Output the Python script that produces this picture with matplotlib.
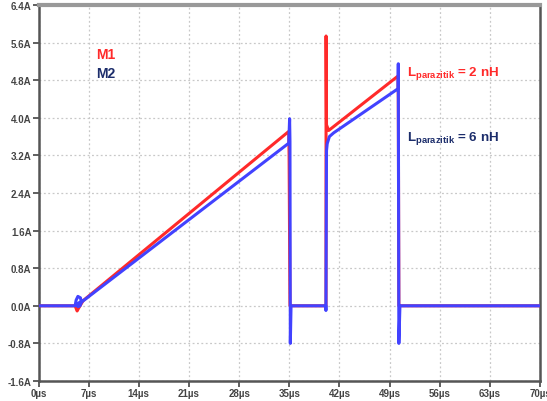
import matplotlib
matplotlib.use("Agg")
import matplotlib.pyplot as plt

plt.rcParams['font.family'] = ['Liberation Sans', 'DejaVu Sans']
plt.rcParams['mathtext.fontset'] = 'custom'
plt.rcParams['mathtext.rm'] = 'Liberation Sans'
plt.rcParams['mathtext.bf'] = 'Liberation Sans:bold'

# Drain current of M1 (2 nH parasitic inductance), time in µs, current in A
m1_t = [0.0, 5.11, 5.39, 5.6, 6.23, 34.93, 34.98, 35.1, 40.13, 40.14, 40.2,
        40.5, 50.19, 50.22, 50.3, 70.0]
m1_i = [0.0, 0.0, -0.11, -0.05, 0.11, 3.71, 3.19, 0.0, 0.0, 5.74, 3.85,
        3.73, 4.89, 4.40, 0.0, 0.0]

# Drain current of M2 (6 nH parasitic inductance)
m2_t = [0.0, 5.11, 5.25, 5.5, 5.85, 6.0, 5.8, 5.5, 5.35, 5.7, 6.1, 34.93,
        35.05, 35.1, 35.15, 35.25, 40.1, 40.12, 40.2, 40.3, 40.6, 41.2, 50.19,
        50.22, 50.3, 50.45, 70.0]
m2_i = [0.0, 0.0, 0.12, 0.2, 0.17, 0.08, 0.0, -0.02, 0.03, 0.07, 0.09, 3.46,
        3.98, 3.5, -0.8, 0.0, 0.0, -0.1, 3.3, 3.45, 3.6, 3.68, 4.62,
        5.15, -0.8, 0.0, 0.0]

x_ticks = [0, 7, 14, 21, 28, 35, 42, 49, 56, 63, 70]
x_labels = ['0µs', '7µs', '14µs', '21µs', '28µs', '35µs', '42µs', '49µs',
            '56µs', '63µs', '70µs']
y_ticks = [-1.6, -0.8, 0.0, 0.8, 1.6, 2.4, 3.2, 4.0, 4.8, 5.6, 6.4]
y_labels = ['-1.6A', '-0.8A', '0.0A', '0.8A', '1.6A', '2.4A', '3.2A', '4.0A',
            '4.8A', '5.6A', '6.4A']

red = '#ff2a2a'
blue = '#4242ff'
navy = '#1c2d6b'

fig = plt.figure(figsize=(5.47, 4.02), dpi=100)
ax = fig.add_axes([38.5 / 547, 20 / 402, (540 - 38.5) / 547, (382 - 6) / 402])

ax.plot(m1_t, m1_i, color=red, lw=2.2, solid_joinstyle='round', zorder=3)
ax.plot(m2_t, m2_i, color=blue, lw=2.2, solid_joinstyle='round', zorder=4)

ax.set_xlim(0, 70)
ax.set_ylim(-1.6, 6.4)
ax.set_xticks(x_ticks)
ax.set_xticklabels(x_labels)
ax.set_yticks(y_ticks)
ax.set_yticklabels(y_labels)
ax.tick_params(axis='both', direction='out', length=4, width=1.2,
               color='#444444', labelsize=7, labelcolor='#444444', pad=1)
for lab in ax.get_xticklabels() + ax.get_yticklabels():
    lab.set_fontweight('bold')

ax.grid(True, color='#c8c8c8', linestyle=(0, (1.5, 2)), lw=0.9)

for side in ['left', 'bottom', 'right']:
    ax.spines[side].set_color('#555555')
    ax.spines[side].set_linewidth(1.8)
ax.spines['top'].set_color('#999999')
ax.spines['top'].set_linewidth(3)

ax.text(8.1, 5.28, 'M1', color=red, fontsize=10, fontweight='bold')
ax.text(8.1, 4.86, 'M2', color=navy, fontsize=10, fontweight='bold')
ax.text(51.4, 4.91, r'$\mathbf{L_{parazitik}}$ = 2 nH', color=red,
        fontsize=9.6, fontweight='bold')
ax.text(51.4, 3.52, r'$\mathbf{L_{parazitik}}$ = 6 nH', color=navy,
        fontsize=9.6, fontweight='bold')

fig.savefig('out.png', dpi=100)
